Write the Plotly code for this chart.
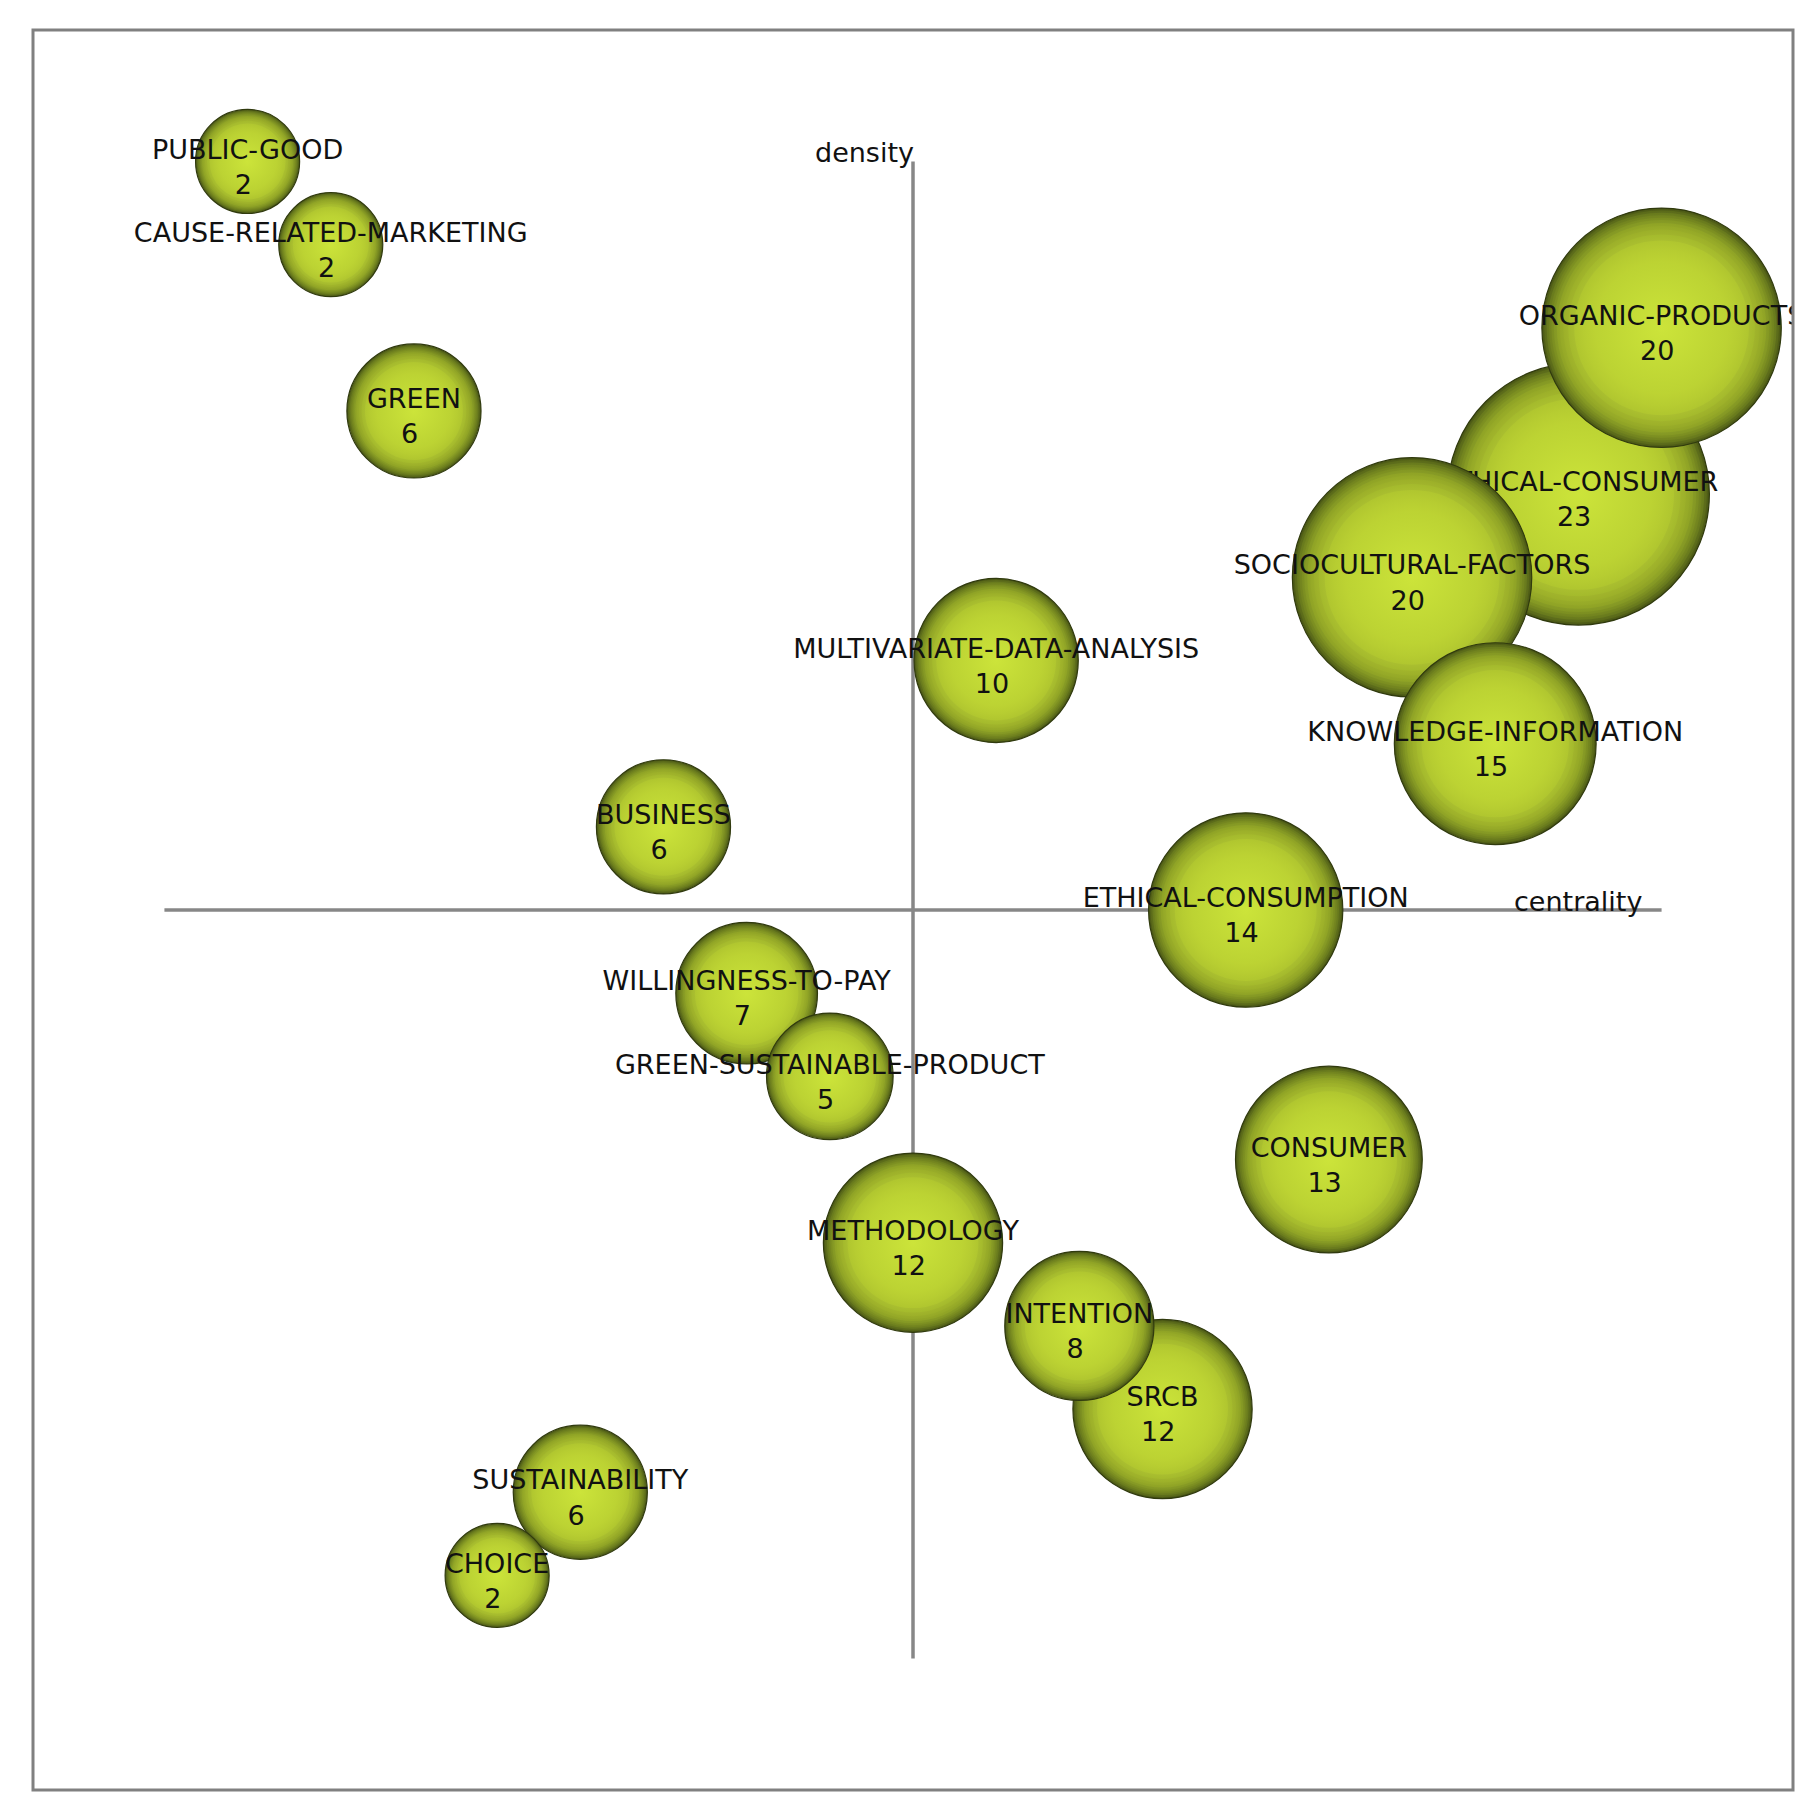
import plotly.graph_objects as go

# ---- data (drawing order) ----
themes = ["PUBLIC-GOOD", "CAUSE-RELATED-MARKETING", "GREEN", "ETHICAL-CONSUMER",
          "ORGANIC-PRODUCTS", "SOCIOCULTURAL-FACTORS", "KNOWLEDGE-INFORMATION",
          "MULTIVARIATE-DATA-ANALYSIS", "BUSINESS", "ETHICAL-CONSUMPTION",
          "WILLINGNESS-TO-PAY", "GREEN-SUSTAINABLE-PRODUCT", "CONSUMER",
          "METHODOLOGY", "SRCB", "INTENTION", "SUSTAINABILITY", "CHOICE"]
documents = [2, 2, 6, 23, 20, 20, 15, 10, 6, 14, 7, 5, 13, 12, 12, 8, 6, 2]
centrality_rank = [1, 2, 3, 17, 18, 15, 16, 10, 6, 13, 7, 8, 14, 9, 12, 11, 5, 4]
density_rank = [18, 17, 15, 14, 16, 13, 11, 12, 10, 9, 8, 7, 6, 5, 3, 4, 2, 1]
axis_mid = 9
axis_max = 18

# ---- style helpers ----
stops_r = [0.0, 0.45, 0.72, 0.88, 0.96, 1.0]
stops_c = [(204, 228, 58), (194, 217, 53), (178, 200, 48), (142, 162, 37),
           (104, 122, 28), (76, 90, 20)]


def f(r):
    for i in range(len(stops_r) - 1):
        if stops_r[i] <= r <= stops_r[i + 1]:
            t = (r - stops_r[i]) / (stops_r[i + 1] - stops_r[i])
            return tuple(stops_c[i][j] + t * (stops_c[i + 1][j] - stops_c[i][j]) for j in range(3))
    return stops_c[-1]


def rgb(c):
    return "rgb(%d,%d,%d)" % tuple(max(0, min(255, round(v))) for v in c)


layers = [1.0, 0.98, 0.96, 0.94, 0.92, 0.90, 0.875, 0.85, 0.82, 0.78, 0.73, 0.66, 0.55]
edge_cols, center_cols = [], []
for k, rk in enumerate(layers):
    rn = layers[k + 1] if k + 1 < len(layers) else 0.0
    t = rn / rk
    fe, fn = f(rk), f(rn)
    c = tuple((fn[j] - t * fe[j]) / (1 - t) for j in range(3))
    edge_cols.append(rgb(fe))
    center_cols.append(rgb(c))

FONT = "DejaVu Sans"
FS = 27
px_per_unit = 1760 / 21.16
text_dy = 8 / px_per_unit

fig = go.Figure()
for name, n, cx, dy in zip(themes, documents, centrality_rank, density_rank):
    diam = 89 + 7.52 * n
    fig.add_trace(go.Scatter(
        x=[cx] * len(layers), y=[dy] * len(layers), mode="markers",
        marker=dict(size=[diam * r for r in layers], color=edge_cols,
                    gradient=dict(type="radial", color=center_cols),
                    line=dict(width=[1.2] + [0] * (len(layers) - 1), color="rgb(48,58,14)"),
                    opacity=1),
        hoverinfo="skip", showlegend=False))
    fig.add_trace(go.Scatter(
        x=[cx], y=[dy - text_dy], mode="text",
        text=[f"{name}<br>{n}\u00a0"], textposition="middle center",
        textfont=dict(family=FONT, size=FS, color="#111111"),
        hoverinfo="skip", showlegend=False))

fig.add_shape(type="line", x0=axis_mid, x1=axis_mid, y0=0, y1=axis_max,
              line=dict(color="#878787", width=3.5), layer="below")
fig.add_shape(type="line", x0=0, x1=axis_max, y0=axis_mid, y1=axis_mid,
              line=dict(color="#878787", width=3.5), layer="below")
fig.add_shape(type="rect", xref="paper", yref="paper", x0=0, x1=1, y0=0, y1=1,
              line=dict(color="#808080", width=3), layer="above")

fig.add_annotation(x=axis_mid, y=18.11, text="density", showarrow=False,
                   xanchor="right", yanchor="middle", xshift=3,
                   font=dict(family=FONT, size=FS, color="#111111"))
fig.add_annotation(x=17.0, y=9.1, text="centrality", showarrow=False,
                   xanchor="center", yanchor="middle",
                   font=dict(family=FONT, size=FS, color="#111111"))

ax = dict(range=[-1.58, 19.58], showgrid=False, zeroline=False, showticklabels=False,
          showline=False, ticks="", fixedrange=True)
fig.update_layout(width=1812, height=1806, margin=dict(l=25, r=27, t=22, b=24),
                  paper_bgcolor="white", plot_bgcolor="white",
                  xaxis=ax, yaxis=ax, showlegend=False)

fig.write_html("out.html")
